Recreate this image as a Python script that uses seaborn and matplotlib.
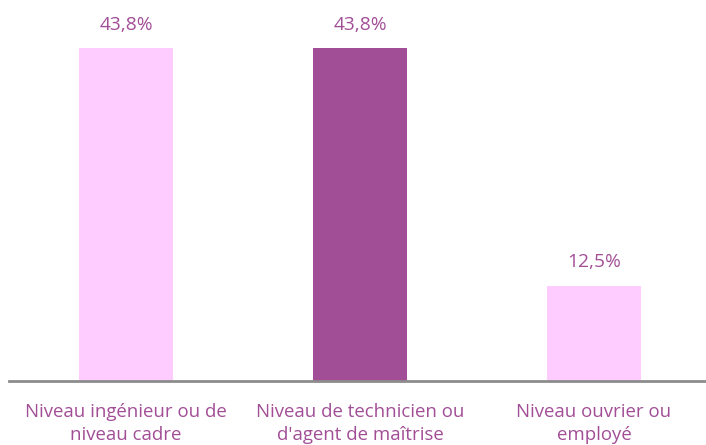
import matplotlib.pyplot as plt
import seaborn as sns
import pandas as pd

categories = ["Niveau ingénieur ou de\nniveau cadre",
              "Niveau de technicien ou\nd'agent de maîtrise",
              "Niveau ouvrier ou\nemployé"]
values = [43.8, 43.8, 12.5]
labels = ["43,8%", "43,8%", "12,5%"]
colors = ["#FFCCFF", "#A24E96", "#FFCCFF"]

text_color = "#A24E96"

sns.set_style("white")
plt.rcParams['font.family'] = ['Open Sans', 'DejaVu Sans']

df = pd.DataFrame({"cat": categories, "val": values})

fig = plt.figure(figsize=(7.06, 4.45), dpi=100)
ax = fig.add_axes([9 / 706, 64 / 445, 697 / 706, 380 / 445])

sns.barplot(data=df, x="cat", y="val", hue="cat", palette=colors,
            width=0.4, legend=False, ax=ax, saturation=1, linewidth=0)

for i, (v, lab) in enumerate(zip(values, labels)):
    ax.text(i, v + 3.1, lab, ha="center", va="center", fontsize=13.8, color=text_color)

ax.set_xlim(-0.5, -0.5 + 697 / 234)
ax.set_ylim(0, 50)
ax.set_yticks([])
ax.set_xlabel("")
ax.set_ylabel("")
ax.tick_params(axis="x", length=0, pad=16, labelsize=13.4, labelcolor=text_color)
for t in ax.get_xticklabels():
    t.set_linespacing(1.35)

for s in ["top", "right", "left"]:
    ax.spines[s].set_visible(False)
ax.spines["bottom"].set_color("#8c8c8c")
ax.spines["bottom"].set_linewidth(2)

fig.savefig("out.png", dpi=100)
